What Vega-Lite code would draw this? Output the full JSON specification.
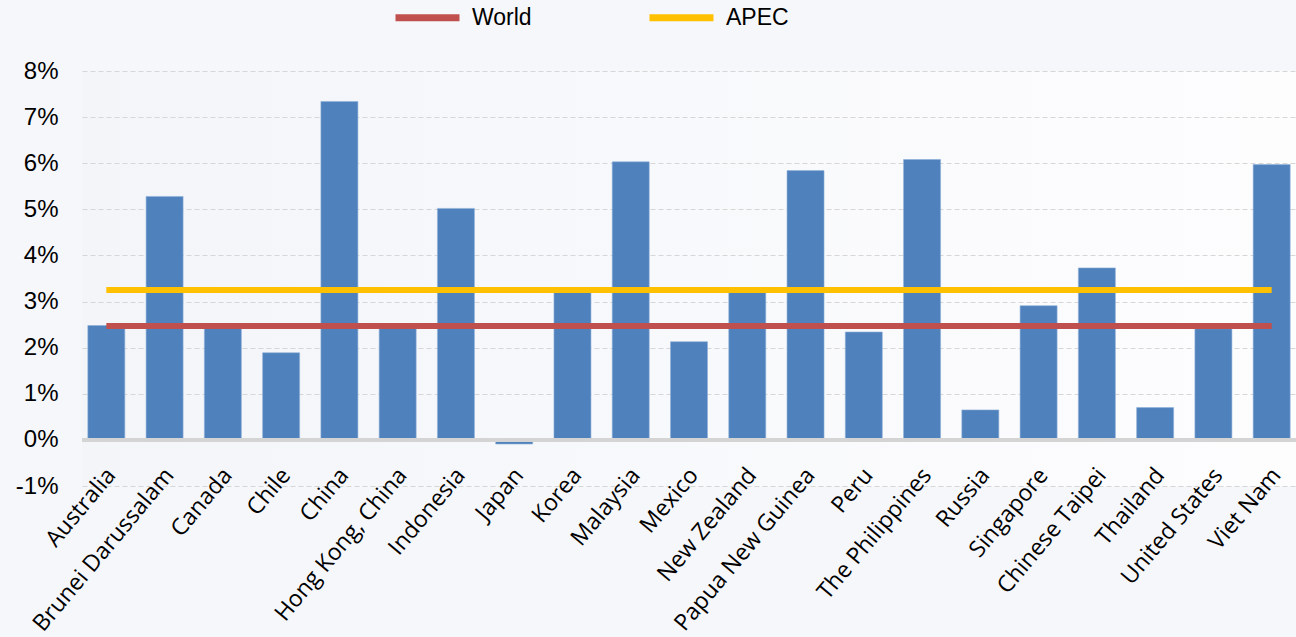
{
  "$schema": "https://vega.github.io/schema/vega-lite/v6.json",
  "autosize": "none",
  "width": 1214,
  "height": 415,
  "padding": {"left": 82, "top": 71, "right": 0, "bottom": 151},
  "background": "#f6f7fa",
  "config": {
    "view": {"stroke": null, "fill": {"gradient": "linear", "x1": 0, "y1": 0, "x2": 1, "y2": 0, "stops": [{"offset": 0, "color": "#f3f5f9"}, {"offset": 1, "color": "#fdfdfe"}]}},
    "axis": {"domain": false, "ticks": false, "labelColor": "#000000", "title": null}
  },
  "data": {
    "values": [
      {"country": "Australia", "value": 0.0248, "World": 0.0247, "APEC": 0.0325},
      {"country": "Brunei Darussalam", "value": 0.0528, "World": 0.0247, "APEC": 0.0325},
      {"country": "Canada", "value": 0.0246, "World": 0.0247, "APEC": 0.0325},
      {"country": "Chile", "value": 0.0189, "World": 0.0247, "APEC": 0.0325},
      {"country": "China", "value": 0.0734, "World": 0.0247, "APEC": 0.0325},
      {"country": "Hong Kong, China", "value": 0.0247, "World": 0.0247, "APEC": 0.0325},
      {"country": "Indonesia", "value": 0.0502, "World": 0.0247, "APEC": 0.0325},
      {"country": "Japan", "value": -0.0009, "World": 0.0247, "APEC": 0.0325},
      {"country": "Korea", "value": 0.0321, "World": 0.0247, "APEC": 0.0325},
      {"country": "Malaysia", "value": 0.0603, "World": 0.0247, "APEC": 0.0325},
      {"country": "Mexico", "value": 0.0213, "World": 0.0247, "APEC": 0.0325},
      {"country": "New Zealand", "value": 0.0321, "World": 0.0247, "APEC": 0.0325},
      {"country": "Papua New Guinea", "value": 0.0584, "World": 0.0247, "APEC": 0.0325},
      {"country": "Peru", "value": 0.0234, "World": 0.0247, "APEC": 0.0325},
      {"country": "The Philippines", "value": 0.0608, "World": 0.0247, "APEC": 0.0325},
      {"country": "Russia", "value": 0.0065, "World": 0.0247, "APEC": 0.0325},
      {"country": "Singapore", "value": 0.0291, "World": 0.0247, "APEC": 0.0325},
      {"country": "Chinese Taipei", "value": 0.0373, "World": 0.0247, "APEC": 0.0325},
      {"country": "Thailand", "value": 0.0070, "World": 0.0247, "APEC": 0.0325},
      {"country": "United States", "value": 0.0241, "World": 0.0247, "APEC": 0.0325},
      {"country": "Viet Nam", "value": 0.0597, "World": 0.0247, "APEC": 0.0325}
    ]
  },
  "layer": [
    {
      "mark": {"type": "bar", "color": "#4F81BD", "stroke": "#8fb0d8", "strokeWidth": 0.6},
      "encoding": {
        "x": {
          "field": "country", "type": "nominal", "sort": null,
          "scale": {"paddingInner": 0.365, "paddingOuter": 0.1},
          "axis": {"labelAngle": -50, "labelAlign": "right", "labelFont": "Open Sans", "labelFontSize": 23, "labelPadding": 31, "labelOffset": 5, "offset": -46, "grid": false, "labelLimit": 400}
        },
        "y": {
          "field": "value", "type": "quantitative",
          "scale": {"domain": [-0.01, 0.08], "nice": false, "zero": false},
          "axis": {"values": [-0.01, 0, 0.01, 0.02, 0.03, 0.04, 0.05, 0.06, 0.07, 0.08], "format": ".0%", "labelExpr": "replace(datum.label, '\u2212', '-')", "labelFont": "Liberation Sans", "labelFontSize": 24, "labelPadding": 24, "grid": true, "gridColor": "#d6d6d6", "gridDash": [5, 3], "gridWidth": 1}
        }
      }
    },
    {
      "mark": {"type": "rule", "color": "#d4d4d4", "strokeWidth": 3},
      "encoding": {"y": {"datum": 0}}
    },
    {
      "transform": [{"fold": ["World", "APEC"], "as": ["series", "rate"]}],
      "mark": {"type": "line", "strokeWidth": 6},
      "encoding": {
        "x": {"field": "country", "type": "nominal", "sort": null},
        "y": {"field": "rate", "type": "quantitative"},
        "color": {
          "field": "series", "type": "nominal",
          "scale": {"domain": ["World", "APEC"], "range": ["#C0504D", "#FFC000"]},
          "legend": {
            "title": null, "orient": "none", "direction": "horizontal",
            "legendX": 310, "legendY": -89,
            "symbolType": "stroke", "symbolSize": 4096, "symbolStrokeWidth": 7,
            "labelFont": "Liberation Sans", "labelFontSize": 23, "labelColor": "#000000",
            "labelOffset": 9, "columnPadding": 103
          }
        }
      }
    }
  ]
}
